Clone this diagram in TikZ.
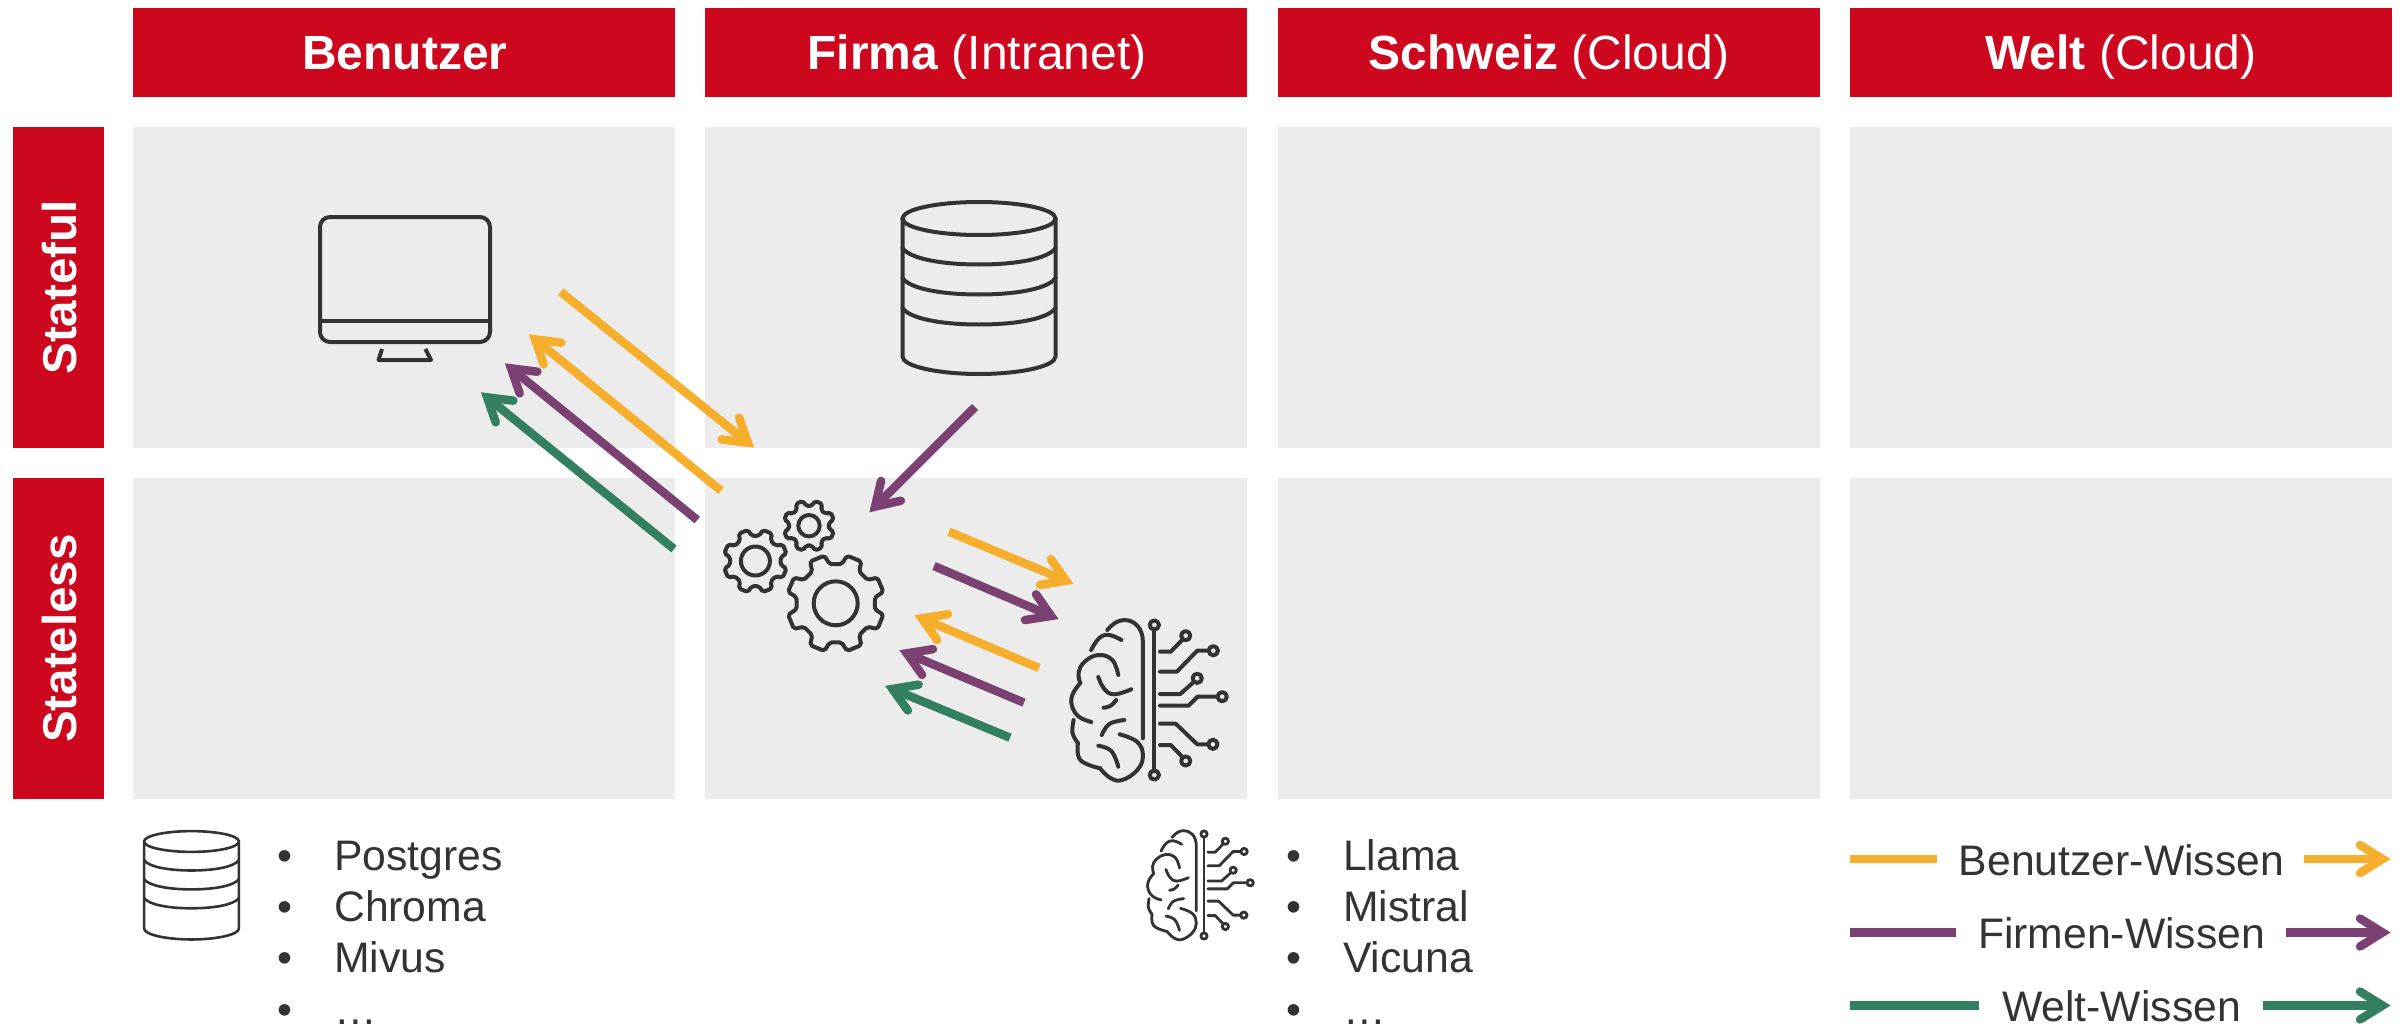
\documentclass[tikz,border=0pt]{standalone}
\usepackage{fontspec}
\setmainfont{Liberation Sans}
\usetikzlibrary{calc}
\definecolor{hdred}{HTML}{CC071E}
\definecolor{cellgray}{HTML}{ECECEC}
\definecolor{ink}{HTML}{333333}
\definecolor{uorange}{HTML}{F6AE2D}
\definecolor{fpurple}{HTML}{7B4173}
\definecolor{wgreen}{HTML}{328060}
\tikzset{
  hdr/.style={fill=hdred,draw=none,text=white,minimum width=542pt,minimum height=89pt,inner sep=0pt,text height=35pt,text depth=0pt,font=\fontsize{48}{48}\selectfont},
  side/.style={fill=hdred,draw=none,text=white,minimum width=321pt,minimum height=91pt,inner sep=0pt,rotate=90,text height=35pt,text depth=0pt,font=\fontsize{47.5}{48}\selectfont\bfseries},
  cell/.style={fill=cellgray,draw=none,minimum width=542pt,minimum height=321pt,inner sep=0pt},
  listtext/.style={text=ink,anchor=base west,inner sep=0pt,font=\fontsize{42.7}{43}\selectfont},
  bullettext/.style={text=ink,anchor=base,inner sep=0pt,font=\fontsize{42.7}{43}\selectfont},
  legendtext/.style={text=ink,anchor=base,inner sep=0pt,font=\fontsize{42.7}{43}\selectfont},
  iconline/.style={draw=ink,line width=#1,line cap=round,line join=round},
  flowline/.style={line width=8.5pt,line cap=butt},
  flowhead/.style={line width=8.5pt,line cap=round,line join=miter,miter limit=10}
}
% flow arrow: colour, tail coordinate, tip coordinate
\newcommand{\flowarrow}[3]{%
  \path let \p1=($(#2)-(#3)$), \n1={atan2(\y1,\x1)} in
    coordinate (hA) at ($(#3)+(\n1+24.3:34pt)$)
    coordinate (hB) at ($(#3)+(\n1-24.3:34pt)$)
    coordinate (hV) at ($(#3)+(\n1:8.5pt)$)
    coordinate (hS) at ($(#3)+(\n1:9.5pt)$);
  \draw[flowline,#1] (#2) -- (hS);
  \draw[flowhead,#1] (hA) -- (hV) -- (hB);
}
\newcommand{\dbicon}{%
  \draw (-76.5,0) arc[start angle=180,end angle=-180,x radius=76.5,y radius=16.5];
  \draw (-76.5,0) -- (-76.5,138) .. controls (-76.5,148) and (-40,155.5) .. (0,155.5) .. controls (40,155.5) and (76.5,148) .. (76.5,138) -- (76.5,0);
  \foreach \yy in {29.5,59.5,89.5}{
    \draw (-76.5,\yy) .. controls (-70,\yy+10) and (-40,\yy+16.5) .. (0,\yy+16.5) .. controls (40,\yy+16.5) and (70,\yy+10) .. (76.5,\yy);
  }
}
\newcommand{\brainicon}{%
  \draw (0,-70) -- (0,70);
  \draw (0,-75) circle (4.6); \draw (0,75) circle (4.6);
  \draw (5.7,-48.3) -- (16.4,-48.3) -- (27.9,-60); \draw (31.4,-64.3) circle (4.6);
  \draw (5.7,-28.3) -- (22.5,-28.3) -- (42.9,-49.3) -- (53,-49.3); \draw (59,-49.3) circle (4.6);
  \draw (5.7,-6) -- (26,-6) -- (38.6,-17.3); \draw (42.9,-21.7) circle (4.6);
  \draw (5.7,5.7) -- (34.3,5.7) -- (43.2,-3.3) -- (62,-3.3); \draw (67.9,-3.3) circle (4.6);
  \draw (5.7,23.7) -- (21.4,23.7) -- (42.9,44.3) -- (53,44.3); \draw (58.6,44.3) circle (4.6);
  \draw (5.7,45) -- (16.4,45) -- (27.9,56.7); \draw (31.4,61) circle (4.6);
  \draw (-11.4,38.3) -- (-11.4,-58) .. controls (-11.4,-72) and (-20,-80) .. (-30,-80) .. controls (-37,-80) and (-43,-75) .. (-47,-70);
  \draw plot[smooth,tension=.7] coordinates {(-63.2,-50) (-55,-62) (-45,-65) (-32.9,-60)};
  \draw plot[smooth,tension=.7] coordinates {(-36,-25) (-42,-40) (-56,-45) (-70,-38) (-75.7,-27) (-74,-17)};
  \draw plot[smooth,tension=.7] coordinates {(-74,-17) (-82,-5) (-82,7) (-75,17) (-63,22)};
  \draw plot[smooth,tension=.7] coordinates {(-56,-23) (-50,-11) (-40,-5.7) (-23,-10.7)};
  \draw plot[smooth,tension=.7] coordinates {(-50.7,7.7) (-44,6) (-38,0)};
  \draw plot[smooth,tension=.7] coordinates {(-80.7,20) (-81.8,33) (-76.4,43)};
  \draw plot[smooth,tension=.7] coordinates {(-76.4,43) (-74,60) (-54.3,68.3)};
  \draw plot[smooth,tension=.7] coordinates {(-54.3,68.3) (-44,78) (-32,80) (-17,70) (-11.4,56) (-17,42) (-34.6,34.3)};
  \draw plot[smooth,tension=.7] coordinates {(-52.5,35) (-45,24) (-30,20)};
  \draw plot[smooth,tension=.7] coordinates {(-56,45.7) (-43,51) (-36,66.7)};
}
% gear: centre name, outer radius, root radius, hole radius, teeth, start angle
\newcommand{\gearicon}[6]{%
  \pgfmathsetmacro{\stepang}{360/#5}
  \pgfmathsetmacro{\ha}{\stepang*0.31}
  \pgfmathsetmacro{\hb}{\stepang*0.2}
  \draw[rounded corners=2pt] (#1) ++(#6-\ha:#3)
    \foreach \k in {1,...,#5}{
      -- ($(#1)+(#6+\k*\stepang-\stepang-\ha:#3)$)
      -- ($(#1)+(#6+\k*\stepang-\stepang-\hb:#2)$)
      -- ($(#1)+(#6+\k*\stepang-\stepang+\hb:#2)$)
      -- ($(#1)+(#6+\k*\stepang-\stepang+\ha:#3)$)
    } -- cycle;
  \draw (#1) circle (#4);
}
\begin{document}
\begin{tikzpicture}[x=1pt,y=-1pt]
\useasboundingbox (0,0) rectangle (2405,1027);
% headers
\node[hdr] (h1) at (404,52.5) {\hspace*{2pt}\textbf{Benutzer}};
\node[hdr] (h2) at (976,52.5) {\hspace*{2pt}\textbf{Firma} (Intranet)};
\node[hdr] (h3) at (1549,52.5) {\textbf{Schweiz} (Cloud)};
\node[hdr] (h4) at (2121,52.5) {\textbf{Welt} (Cloud)};
% side labels
\node[side] (s1) at (58.5,287.5) {Stateful};
\node[side] (s2) at (58.5,638.5) {Stateless};
% cells
\node[cell] (c11) at (404,287.5) {};
\node[cell] (c12) at (976,287.5) {};
\node[cell] (c13) at (1549,287.5) {};
\node[cell] (c14) at (2121,287.5) {};
\node[cell] (c21) at (404,638.5) {};
\node[cell] (c22) at (976,638.5) {};
\node[cell] (c23) at (1549,638.5) {};
\node[cell] (c24) at (2121,638.5) {};
% monitor
\begin{scope}[iconline=4pt]
  \draw[rounded corners=10pt] (320,217) rectangle (490,342);
  \draw[line cap=butt] (320,321) -- (490,321);
  \draw[line cap=butt] (382,349) -- (378.5,360) -- (431,360) -- (425.4,349);
\end{scope}
% database large
\begin{scope}[iconline=4pt,shift={(979,218.5)}]
  \dbicon
\end{scope}
% database small
\begin{scope}[iconline=2.6pt,shift={(191.5,841.5)},xscale=.62,yscale=.63]
  \dbicon
\end{scope}
% gears
\coordinate (g1) at (835.7,603.3);
\coordinate (g2) at (755.4,561);
\coordinate (g3) at (809,525.7);
\begin{scope}[iconline=4pt]
  \gearicon{g1}{49}{39.5}{22}{8}{22.5}
  \gearicon{g2}{32}{25.5}{14.5}{8}{22.5}
  \gearicon{g3}{25.5}{20}{10.7}{8}{22.5}
\end{scope}
% brain large
\begin{scope}[iconline=4pt,shift={(1154.3,700)}]
  \brainicon
\end{scope}
% brain small
\begin{scope}[iconline=2.8pt,shift={(1204,885)},scale=.68]
  \brainicon
\end{scope}
% arrow end points
\coordinate (a1s) at (560.6,291.7); \coordinate (a1e) at (754.5,448);
\coordinate (a2s) at (721,490.7);   \coordinate (a2e) at (528.5,334);
\coordinate (a3s) at (697.3,520);   \coordinate (a3e) at (504.5,363);
\coordinate (a4s) at (674,549);     \coordinate (a4e) at (480.5,392);
\coordinate (a5s) at (975,407);     \coordinate (a5e) at (869,512.7);
\coordinate (a6s) at (949,531.7);   \coordinate (a6e) at (1074,584);
\coordinate (a7s) at (934,566);     \coordinate (a7e) at (1059,619.3);
\coordinate (a8s) at (1039,668);    \coordinate (a8e) at (914,615);
\coordinate (a9s) at (1024,702.7);  \coordinate (a9e) at (899,650);
\coordinate (a10s) at (1010,737.7); \coordinate (a10e) at (884.6,685.7);
\flowarrow{uorange}{a1s}{a1e}
\flowarrow{uorange}{a2s}{a2e}
\flowarrow{fpurple}{a3s}{a3e}
\flowarrow{wgreen}{a4s}{a4e}
\flowarrow{fpurple}{a5s}{a5e}
\flowarrow{uorange}{a6s}{a6e}
\flowarrow{fpurple}{a7s}{a7e}
\flowarrow{uorange}{a8s}{a8e}
\flowarrow{fpurple}{a9s}{a9e}
\flowarrow{wgreen}{a10s}{a10e}
% lists
\node[bullettext] (b11) at (285,870.5) {•};
\node[bullettext] (b12) at (285,921.5) {•};
\node[bullettext] (b13) at (285,972.5) {•};
\node[bullettext] (b14) at (285,1024) {•};
\node[listtext] (l11) at (334,870.5) {Postgres};
\node[listtext] (l12) at (334,921.5) {Chroma};
\node[listtext] (l13) at (334,972.5) {Mivus};
\node[listtext] (l14) at (334,1024) {…};
\node[bullettext] (b21) at (1294,870.5) {•};
\node[bullettext] (b22) at (1294,921.5) {•};
\node[bullettext] (b23) at (1294,972.5) {•};
\node[bullettext] (b24) at (1294,1024) {•};
\node[listtext] (l21) at (1343,870.5) {Llama};
\node[listtext] (l22) at (1343,921.5) {Mistral};
\node[listtext] (l23) at (1343,972.5) {Vicuna};
\node[listtext] (l24) at (1343,1024) {…};
% legend
\node[legendtext] (t1) at (2121.5,875) {Benutzer-Wissen};
\node[legendtext] (t2) at (2121.5,948) {Firmen-Wissen};
\node[legendtext] (t3) at (2121.5,1021) {Welt-Wissen};
\coordinate (k1a) at (1850,859);   \coordinate (k1b) at (1937,859);
\coordinate (k1c) at (2304,859);   \coordinate (k1d) at (2391,859);
\coordinate (k2a) at (1850,932.5); \coordinate (k2b) at (1956,932.5);
\coordinate (k2c) at (2285.7,932.5); \coordinate (k2d) at (2391,932.5);
\coordinate (k3a) at (1850,1005.5);  \coordinate (k3b) at (1978.6,1005.5);
\coordinate (k3c) at (2263,1005.5);  \coordinate (k3d) at (2391,1005.5);
\draw[flowline,uorange] (k1a) -- (k1b);
\draw[flowline,fpurple] (k2a) -- (k2b);
\draw[flowline,wgreen] (k3a) -- (k3b);
\flowarrow{uorange}{k1c}{k1d}
\flowarrow{fpurple}{k2c}{k2d}
\flowarrow{wgreen}{k3c}{k3d}
\end{tikzpicture}
\end{document}
